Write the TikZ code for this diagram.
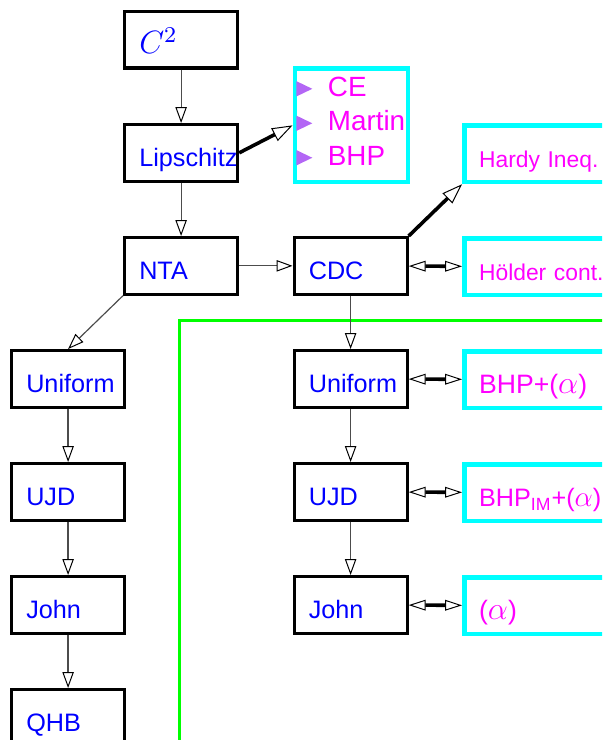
\RequirePackage{fix-cm}
\documentclass[tikz,border=0pt]{standalone}
\usepackage{fontspec}
\setmainfont{Liberation Sans}
\usetikzlibrary{arrows.meta}
\hyphenpenalty=10000
\newcommand{\bigmath}[2]{\scalebox{#1}{$#2$}}

\begin{document}
\begin{tikzpicture}[
  box/.style={draw, line width=1.6pt, anchor=north west, minimum width=2cm, minimum height=1cm,
    text width=1.48cm, inner xsep=0.26cm, inner ysep=0.25cm, text height=0.5cm, text depth=0pt,
    align=left, font=\fontsize{12.7}{15}\selectfont, text=NodeBlue},
  hint/.style={box, draw=HintCyan, line width=2.4pt, text width=2.3cm, text=HintMagenta,
    font=\fontsize{13.4}{16}\selectfont},
  small/.style={font=\fontsize{11.5}{14}\selectfont},
  item/.style={inner sep=0pt, anchor=base west, text=HintMagenta, font=\fontsize{14}{17}\selectfont},
  link/.style={black!70, line width=0.6pt, -{Triangle[open, length=2.8mm, width=2mm, color=black, line width=0.5pt]}},
  thicklink/.style={line width=1.8pt, -{Triangle[open, length=3.6mm, width=2.5mm, line width=0.5pt]}},
  duallink/.style={line width=1.8pt, {Triangle[open, length=3mm, width=1.9mm, line width=0.5pt]}-{Triangle[open, length=3mm, width=1.9mm, line width=0.5pt]}}
]

% Define Colors
\definecolor{NodeBlue}{HTML}{0000FF}
\definecolor{HintCyan}{HTML}{00FFFF}
\definecolor{HintMagenta}{HTML}{FF00FF}
\definecolor{BulletPurple}{HTML}{B366F5}
\definecolor{ZoneGreen}{HTML}{00FF00}

% Page frame (602 x 740 px)
\path[use as bounding box, clip] (0,0) rectangle (10.655,-13.097);

\begin{scope}[shift={(0.177,-0.177)}]

  % Region of the right column
  \draw[ZoneGreen, line width=1.6pt] (3,-5.5) rectangle (12,-15);

  % Main chain
  \node[box] (c2) at (2,0) {\bigmath{1.28}{C^2}};
  \node[box] (lip) at (2,-2) {Lipschitz};
  \node[box] (nta) at (2,-4) {NTA};
  \node[box] (cdc) at (5,-4) {CDC};

  % Left column
  \foreach \name/\txt [count=\i] in {uniL/Uniform, ujdL/UJD, johnL/John, qhb/QHB} {
    \node[box] (\name) at (0,{-4-2*\i}) {\txt};
  }

  % Right column
  \foreach \name/\txt [count=\i] in {uniR/Uniform, ujdR/UJD, johnR/John} {
    \node[box] (\name) at (5,{-4-2*\i}) {\txt};
  }

  % Consequences
  \node[hint, minimum height=2cm, text height=0pt, text width=1.48cm] (list) at (5,-1) {};
  \foreach \txt [count=\i] in {CE, Martin, BHP} {
    \node[item] (item\i) at ([shift={(0.62,{-0.53-0.61*(\i-1)})}]list.north west) {\txt};
    \fill[BulletPurple] ([xshift=-0.55cm]item\i.base west) -- ++(0.28,0.135) -- ++(-0.28,0.135) -- cycle;
  }
  \node[hint, small] (hardy) at (8,-2) {Hardy Ineq.};
  \node[hint, small] (hoelder) at (8,-4) {Hölder cont.};
  \node[hint] (bhp) at (8,-6) {BHP+(\bigmath{1.2}{\alpha})};
  \node[hint, font=\fontsize{12.7}{15}\selectfont] (bhpim) at (8,-8) {BHP\textsubscript{IM}+(\bigmath{1.15}{\alpha})};
  \node[hint] (alpha) at (8,-10) {(\bigmath{1.2}{\alpha})};

  % Implications
  \draw[link] (c2) -- (lip);
  \draw[link] (lip) -- (nta);
  \draw[link] (nta) -- (cdc);
  \draw[link] (nta.south west) -- (uniL.north);
  \draw[link] (uniL) -- (ujdL);
  \draw[link] (ujdL) -- (johnL);
  \draw[link] (johnL) -- (qhb);
  \draw[link] (cdc) -- (uniR);
  \draw[link] (uniR) -- (ujdR);
  \draw[link] (ujdR) -- (johnR);

  \draw[thicklink] (lip.east) -- (list.west);
  \draw[thicklink] (cdc.north east) -- (hardy.south west);

  % Equivalences
  \draw[duallink] (cdc) -- (hoelder);
  \draw[duallink] (uniR) -- (bhp);
  \draw[duallink] (ujdR) -- (bhpim);
  \draw[duallink] (johnR) -- (alpha);

\end{scope}

\end{tikzpicture}
\end{document}
